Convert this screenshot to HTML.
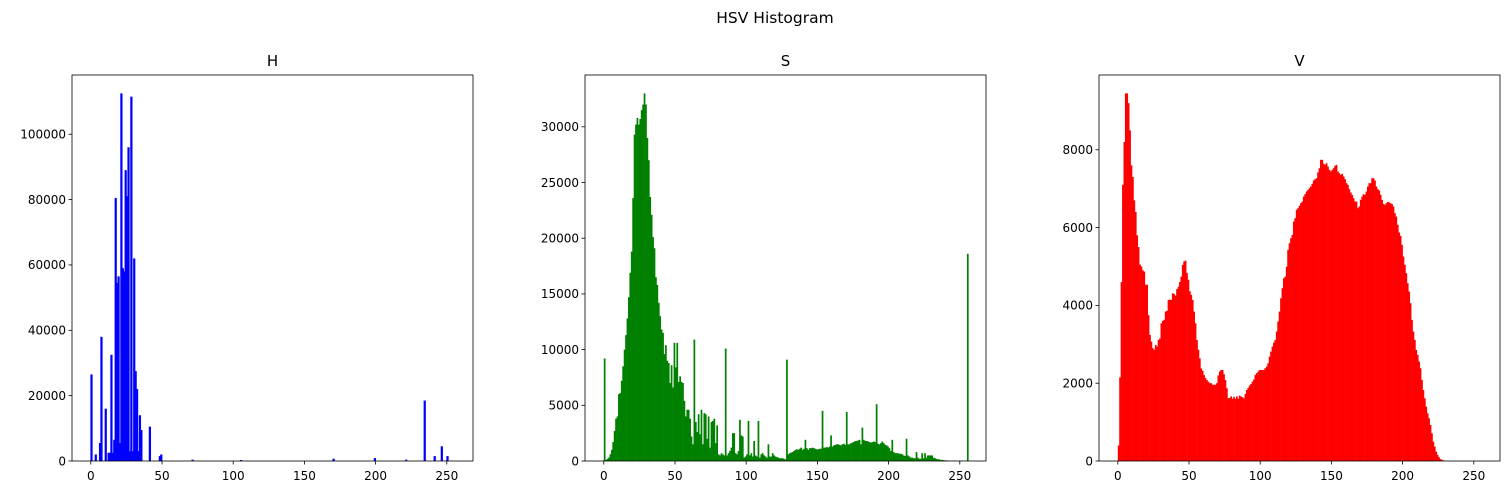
<!DOCTYPE html>
<html><head><meta charset="utf-8"><style>
body{margin:0;background:#fff;}
svg{display:block;font-family:"DejaVu Sans","Liberation Sans",sans-serif;}
</style></head><body>
<svg id="fig" width="1509" height="495" viewBox="0 0 1509 495" xmlns="http://www.w3.org/2000/svg">
<rect width="1509" height="495" fill="#fff"/>
<text x="775" y="23" text-anchor="middle" font-size="15.5">HSV Histogram</text>
</svg>
<script>
const xTicks=[0,50,100,150,200,250];
const hTicks=[0,20000,40000,60000,80000,100000];
const sTicks=[0,5000,10000,15000,20000,25000,30000];
const vTicks=[0,2000,4000,6000,8000];
const hBins=[0,3,6,7,10,12,13,14,15,16,17,18,19,20,21,22,23,24,25,26,27,28,29,30,31,32,33,34,35,41,48,49,71,105,170,199,221,234,241,246,250];
const hCounts=[26500,2000,5500,38000,16000,2500,2500,32500,2500,6500,80500,54500,56500,5500,112500,59000,58000,89000,81000,96000,3000,111500,3000,62000,27500,22000,3000,14000,9500,10500,1500,2000,400,300,700,900,400,18500,1500,4500,1500];
const sCounts=[9200,100,200,300,600,1000,1700,2700,3800,4000,6000,6100,7200,8500,10000,11300,12800,14700,16900,18800,23600,29300,30200,30800,30200,30700,31500,32000,33000,32000,29000,27000,23700,22100,20100,19100,16500,15800,14200,13000,11800,11500,9600,10400,9000,8800,7000,8600,6600,10600,8400,10600,7100,7600,7100,7000,5400,4000,4600,4600,3800,2200,1500,10900,3500,2600,4200,2400,4600,1500,4300,4200,2000,4000,1200,3500,3600,3800,1600,3200,600,500,700,600,500,10100,500,700,900,1200,2500,2500,700,600,900,3700,2300,2200,300,400,600,3600,500,700,400,1800,500,400,3600,300,600,700,500,400,300,1500,400,400,700,500,400,350,300,250,250,250,200,150,9100,600,700,750,800,900,1000,1050,1000,1100,1200,1000,1100,1900,1150,1000,1150,1150,1200,1150,1100,1050,1050,1100,1100,4500,1200,1200,1250,1200,1300,2300,1300,1400,1450,1500,1500,1450,1400,1500,1550,1450,4400,1500,1500,1600,1650,1700,1800,1800,1850,1900,1500,3000,1900,1800,1800,1750,1700,1650,1700,1750,1700,5100,1550,1500,1600,1750,1600,1450,1400,1300,1150,900,1900,800,700,700,700,650,650,600,500,450,2000,500,400,300,300,250,250,800,300,200,200,700,250,700,300,500,500,500,500,300,250,200,150,150,100,100,80,60,50,40,20,20,20,20,20,20,20,20,20,20,20,20,20,18600];
const vCounts=[400,2150,4600,7100,8200,9450,9450,9200,8500,7600,7300,6700,6400,5800,5500,5050,5000,4900,4870,4530,4530,3750,3240,3070,2900,2860,2980,2940,3110,3150,3540,3600,3630,3840,3860,4140,4150,4140,4310,4290,4250,4420,4480,4600,4740,5040,5130,5150,4830,4660,4360,4270,4140,3840,3540,3110,2860,2640,2380,2320,2210,2130,2080,2040,2000,2000,1960,1960,1960,2000,2200,2300,2340,2340,2230,2080,1870,1610,1620,1660,1600,1650,1600,1660,1600,1680,1655,1640,1610,1725,1826,1878,1938,1980,2040,2092,2212,2255,2298,2340,2340,2340,2340,2384,2427,2512,2684,2812,2940,3044,3112,3327,3584,3841,4184,4441,4698,4741,4998,5427,5598,5727,5813,6156,6242,6456,6499,6559,6627,6670,6799,6859,6927,6970,7013,7056,7125,7210,7245,7270,7416,7527,7742,7742,7639,7613,7656,7570,7485,7442,7485,7527,7588,7613,7442,7399,7356,7382,7313,7245,7142,7099,6987,6902,6842,6756,6670,6670,6499,6541,6713,6799,6859,6842,6927,7056,7142,7142,7270,7270,7210,7056,6987,6953,6842,6713,6610,6584,6627,6662,6645,6627,6602,6541,6370,6285,6070,5873,5787,5556,5256,5041,4827,4570,4356,4056,3627,3327,3112,2855,2727,2555,2384,2084,1826,1612,1398,1226,1098,926,712,498,369,240,155,95,50,30,15,10,0,0,0,0,0,0,0,0,0,0,0,0,0,0,0,0,0,0,0,0,0,0,0,0,0,0];

const NS="http://www.w3.org/2000/svg";
const svg=document.getElementById('fig');
function mk(tag,attrs,parent){const e=document.createElementNS(NS,tag);for(const k in attrs)e.setAttribute(k,attrs[k]);(parent||svg).appendChild(e);return e;}
const XMIN=-13.2,XMAX=268.4,TOP=75,BOT=461,W=401;

function panel(key,left,title,color,bins,counts,yTicks){
  const g=mk('g',{});
  
  
  const ymax=Math.max(...counts)*1.05;
  const xs=v=>left+(v-XMIN)/(XMAX-XMIN)*W;
  const ys=v=>BOT-v/ymax*(BOT-TOP);
  const t=mk('text',{x:left+W/2,y:66,'text-anchor':'middle','font-size':15},g);
  t.textContent=title;
  
  
  const bg=mk('g',{fill:color},g);
  
  
  for(let i=0;i<counts.length;i++){
    const b=bins?bins[i]:i;const c=counts[i];if(c<=0)continue;
    const x0=xs(b),x1=xs(b+1);
    const extra=bins?0.8:0.3;
    const r=mk('rect',{x:x0-(bins?0.4:0),y:ys(c),width:(x1-x0)+extra,height:BOT-ys(c)},bg);
    
    
  }
  const fr=mk('rect',{x:left,y:TOP,width:W,height:BOT-TOP,fill:'none',stroke:'#000','stroke-width':0.8},g);
  
  
  xTicks.forEach(v=>{
    const x=xs(v);
    mk('line',{x1:x,x2:x,y1:BOT,y2:BOT+3.5,stroke:'#000','stroke-width':0.8},g);
    const tl=mk('text',{x:x,y:BOT+19,'text-anchor':'middle','font-size':12},g);
    tl.textContent=v;
    
    
  });
  yTicks.forEach(v=>{
    const y=ys(v);
    mk('line',{x1:left-3.5,x2:left,y1:y,y2:y,stroke:'#000','stroke-width':0.8},g);
    const tl=mk('text',{x:left-6,y:y+4.3,'text-anchor':'end','font-size':12},g);
    tl.textContent=v;
    
    
  });
}
panel('h',72,'H','#0000ff',hBins,hCounts,hTicks);
panel('s',585,'S','#008000',null,sCounts,sTicks);
panel('v',1099,'V','#ff0000',null,vCounts,vTicks);
</script>
</body></html>
